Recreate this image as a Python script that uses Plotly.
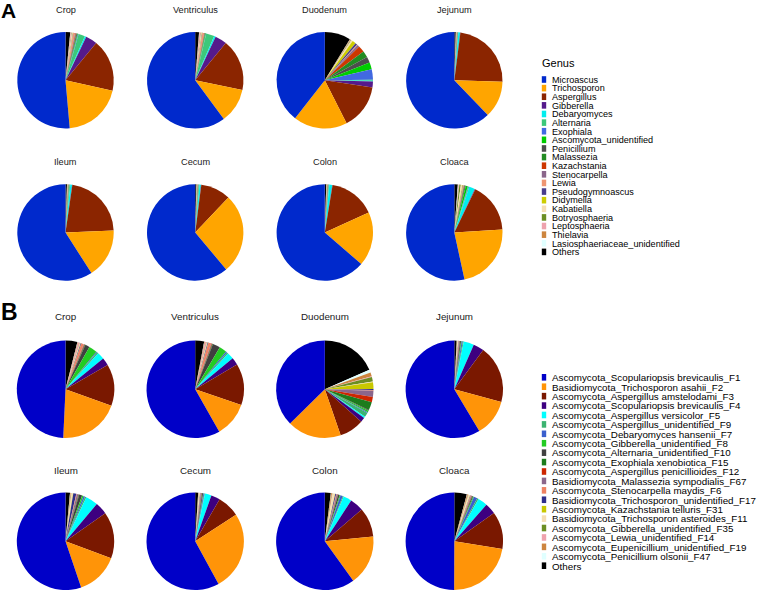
import plotly.graph_objects as go

W, H = 760, 591

organs = ["Crop", "Ventriculus", "Duodenum", "Jejunum", "Ileum", "Cecum", "Colon", "Cloaca"]

genus_labels = ["Microascus", "Trichosporon", "Aspergillus", "Gibberella", "Debaryomyces",
                "Alternaria", "Exophiala", "Ascomycota_unidentified", "Penicillium", "Malassezia",
                "Kazachstania", "Stenocarpella", "Lewia", "Pseudogymnoascus", "Didymella",
                "Kabatiella", "Botryosphaeria", "Leptosphaeria", "Thielavia",
                "Lasiosphaeriaceae_unidentified", "Others"]
genus_colors = ["#0029CC", "#FFA500", "#8B2500", "#551A8B", "#00EEEE", "#3CC87A", "#4169E1",
                "#00CD00", "#4D4D4D", "#228B22", "#CD3700", "#8B668B", "#EE9572", "#483D8B",
                "#CDCD00", "#F5DEB3", "#6B8E23", "#EEA2AD", "#CD853F", "#E0FFFF", "#000000"]

genus_crop = [51.5, 20.2, 17.5, 3.9, 0.5, 2.2, 0.2, 0.2, 0.3, 0.1, 0.2, 0.2, 0.6, 0.1, 0.1, 0.2, 0.1, 0.3, 0.1, 0.1, 1.6]
genus_ventriculus = [60.4, 11.7, 17.4, 4.0, 0.5, 2.8, 0.1, 0.2, 0.1, 0.1, 0.1, 0.1, 0.6, 0.1, 0.1, 0.2, 0.1, 0.4, 0.1, 0.1, 1.3]
genus_duodenum = [39.4, 18.0, 15.1, 2.0, 0.3, 0.3, 3.5, 2.3, 2.0, 2.2, 2.2, 0.7, 0.2, 0.7, 1.2, 0.5, 0.2, 0.1, 0.2, 0.1, 8.7]
genus_jejunum = [62.6, 12.4, 23.6, 0.1, 0.6, 0.1, 0.05, 0.05, 0.05, 0.05, 0.05, 0.05, 0.1, 0.05, 0.05, 0.05, 0.05, 0.05, 0.05, 0.05, 0.5]
genus_ileum = [59.4, 16.7, 22.2, 0.1, 0.6, 0.3, 0.05, 0.1, 0.05, 0.05, 0.05, 0.05, 0.1, 0.05, 0.05, 0.05, 0.05, 0.05, 0.05, 0.05, 0.5]
genus_cecum = [61.5, 27.0, 10.1, 0.1, 0.5, 0.3, 0.05, 0.05, 0.05, 0.05, 0.05, 0.05, 0.1, 0.05, 0.05, 0.05, 0.05, 0.05, 0.05, 0.05, 0.4]
genus_colon = [63.9, 18.2, 15.7, 0.1, 1.0, 0.2, 0.1, 0.05, 0.05, 0.05, 0.05, 0.05, 0.1, 0.05, 0.05, 0.05, 0.05, 0.05, 0.05, 0.05, 0.5]
genus_cloaca = [54.2, 22.9, 17.1, 0.2, 2.0, 0.3, 0.2, 0.7, 0.3, 0.2, 0.1, 0.1, 0.2, 0.1, 0.2, 0.5, 0.5, 0.2, 0.1, 0.2, 1.2]

otu_labels = ["Ascomycota_Scopulariopsis brevicaulis_F1", "Basidiomycota_Trichosporon asahii_F2",
              "Ascomycota_Aspergillus amstelodami_F3", "Ascomycota_Scopulariopsis brevicaulis_F4",
              "Ascomycota_Aspergillus versicolor_F5", "Ascomycota_Aspergillus_unidentified_F9",
              "Ascomycota_Debaryomyces hansenii_F7", "Ascomycota_Gibberella_unidentified_F8",
              "Ascomycota_Alternaria_unidentified_F10", "Ascomycota_Exophiala xenobiotica_F15",
              "Ascomycota_Aspergillus penicillioides_F12", "Basidiomycota_Malassezia sympodialis_F67",
              "Ascomycota_Stenocarpella maydis_F6", "Basidiomycota_Trichosporon_unidentified_F17",
              "Ascomycota_Kazachstania telluris_F31", "Basidiomycota_Trichosporon asteroides_F11",
              "Ascomycota_Gibberella_unidentified_F35", "Ascomycota_Lewia_unidentified_F14",
              "Ascomycota_Eupenicillium_unidentified_F19", "Ascomycota_Penicillium olsonii_F47",
              "Others"]
otu_colors = ["#0000C8", "#FF9408", "#7A1800", "#3D0080", "#00FFFF", "#3CB371", "#3A5FCD",
              "#22CC22", "#404040", "#1C7C1C", "#CD2600", "#8B668B", "#EE8262", "#2E2E8B",
              "#C8C800", "#F5DEB3", "#6B8E23", "#EEA2AD", "#CD853F", "#E0FFFF", "#000000"]

otu_crop = [50.0, 20.6, 14.0, 2.6, 2.4, 0.5, 0.3, 2.8, 1.5, 0.2, 0.2, 0.2, 0.8, 0.2, 0.1, 0.2, 0.1, 0.5, 0.2, 0.1, 4.0]
otu_ventriculus = [58.7, 11.6, 13.9, 2.5, 2.2, 0.5, 0.4, 2.5, 2.5, 0.2, 0.2, 0.2, 1.0, 0.2, 0.1, 0.2, 0.1, 0.5, 0.2, 0.1, 3.0]
otu_duodenum = [37.5, 18.0, 8.2, 1.5, 0.5, 1.5, 0.3, 0.5, 0.3, 2.7, 1.8, 2.0, 0.3, 0.3, 2.2, 0.3, 1.5, 0.2, 1.3, 1.0, 18.5]
otu_jejunum = [59.3, 12.4, 19.3, 3.6, 3.5, 0.3, 0.4, 0.2, 0.3, 0.1, 0.1, 0.2, 0.1, 0.1, 0.05, 0.2, 0.05, 0.1, 0.1, 0.05, 0.8]
otu_ileum = [55.6, 14.2, 15.6, 4.1, 4.1, 0.5, 0.5, 0.5, 1.0, 0.2, 0.1, 0.5, 0.2, 1.0, 0.1, 0.5, 0.1, 0.1, 0.2, 0.1, 1.5]
otu_cecum = [58.5, 26.5, 7.5, 3.0, 2.2, 0.2, 0.3, 0.1, 0.3, 0.1, 0.1, 0.3, 0.1, 0.1, 0.05, 0.3, 0.05, 0.1, 0.1, 0.05, 1.0]
otu_colon = [60.4, 16.8, 9.8, 4.6, 2.8, 0.3, 0.8, 0.3, 0.5, 0.1, 0.1, 0.3, 0.2, 0.3, 0.1, 0.8, 0.1, 0.1, 0.3, 0.1, 2.0]
otu_cloaca = [50.5, 22.8, 12.5, 3.7, 3.2, 0.5, 1.2, 0.3, 0.3, 0.1, 0.1, 0.2, 0.2, 0.1, 0.1, 0.5, 0.1, 0.1, 0.3, 0.1, 4.2]

genus_values = [genus_crop, genus_ventriculus, genus_duodenum, genus_jejunum,
                genus_ileum, genus_cecum, genus_colon, genus_cloaca]
otu_values = [otu_crop, otu_ventriculus, otu_duodenum, otu_jejunum,
              otu_ileum, otu_cecum, otu_colon, otu_cloaca]

FONT = "Liberation Sans, Arial, Helvetica, sans-serif"

def px_x(x):
    return x / W

def px_y(y):
    return 1 - y / H

fig = go.Figure()
annotations = []
shapes = []

col_x = [65.5, 195.2, 324.8, 454.3]
panels = [
    (genus_values, genus_labels, genus_colors, [80.3, 232.5], [9.5, 161.7], 48.2, 9.2),
    (otu_values, otu_labels, otu_colors, [389.3, 541.3], [316.5, 470.0], 48.7, 9.8),
]

for vals_list, labels, colors, row_y, title_y, r, tf in panels:
    for i, vals in enumerate(vals_list):
        cx = col_x[i % 4]
        cy = row_y[i // 4]
        # slices run counter-clockwise from 12 o'clock in legend order:
        # drawn clockwise in reversed order so the first category ends at the top from the left
        fig.add_trace(go.Pie(
            labels=labels[::-1], values=vals[::-1], sort=False, direction="clockwise",
            rotation=0, textinfo="none", hole=0,
            marker=dict(colors=colors[::-1], line=dict(width=0)),
            domain=dict(x=[px_x(cx - r), px_x(cx + r)], y=[px_y(cy + r), px_y(cy - r)]),
            showlegend=False, name=organs[i],
        ))
        annotations.append(dict(
            text=organs[i], x=px_x(cx), y=px_y(title_y[i // 4]), xref="paper", yref="paper",
            xanchor="center", yanchor="middle", showarrow=False,
            font=dict(family=FONT, size=tf, color="#1a1a1a"),
        ))

annotations.append(dict(text="<b>A</b>", x=px_x(-1), y=px_y(11), xref="paper", yref="paper",
                        xanchor="left", yanchor="middle", showarrow=False,
                        font=dict(family=FONT, size=21, color="black")))
annotations.append(dict(text="<b>B</b>", x=px_x(-1), y=px_y(312), xref="paper", yref="paper",
                        xanchor="left", yanchor="middle", showarrow=False,
                        font=dict(family=FONT, size=23, color="black")))

annotations.append(dict(text="Genus", x=px_x(540), y=px_y(62.5), xref="paper", yref="paper",
                        xanchor="left", yanchor="middle", showarrow=False,
                        font=dict(family=FONT, size=11, color="black")))

def draw_legend(labels, colors, y0, dy, fs):
    for k, (lab, col) in enumerate(zip(labels, colors)):
        y = y0 + k * dy
        shapes.append(dict(type="rect", xref="paper", yref="paper",
                           x0=px_x(541.8), x1=px_x(546.2), y0=px_y(y + 3.3), y1=px_y(y - 3.3),
                           fillcolor=col, line=dict(width=0)))
        annotations.append(dict(text=lab, x=px_x(550), y=px_y(y + 0.3), xref="paper", yref="paper",
                                xanchor="left", yanchor="middle", showarrow=False,
                                font=dict(family=FONT, size=fs, color="black")))

draw_legend(genus_labels, genus_colors, 79.5, 8.62, 9.1)
draw_legend(otu_labels, otu_colors, 377.3, 9.42, 9.8)

fig.update_layout(
    width=W, height=H, margin=dict(l=0, r=0, t=0, b=0),
    paper_bgcolor="white", plot_bgcolor="white",
    showlegend=False, annotations=annotations, shapes=shapes,
)

fig.write_html("out.html", config={"displayModeBar": False},
               post_script="document.body.style.margin='0';document.body.style.overflow='hidden';")
